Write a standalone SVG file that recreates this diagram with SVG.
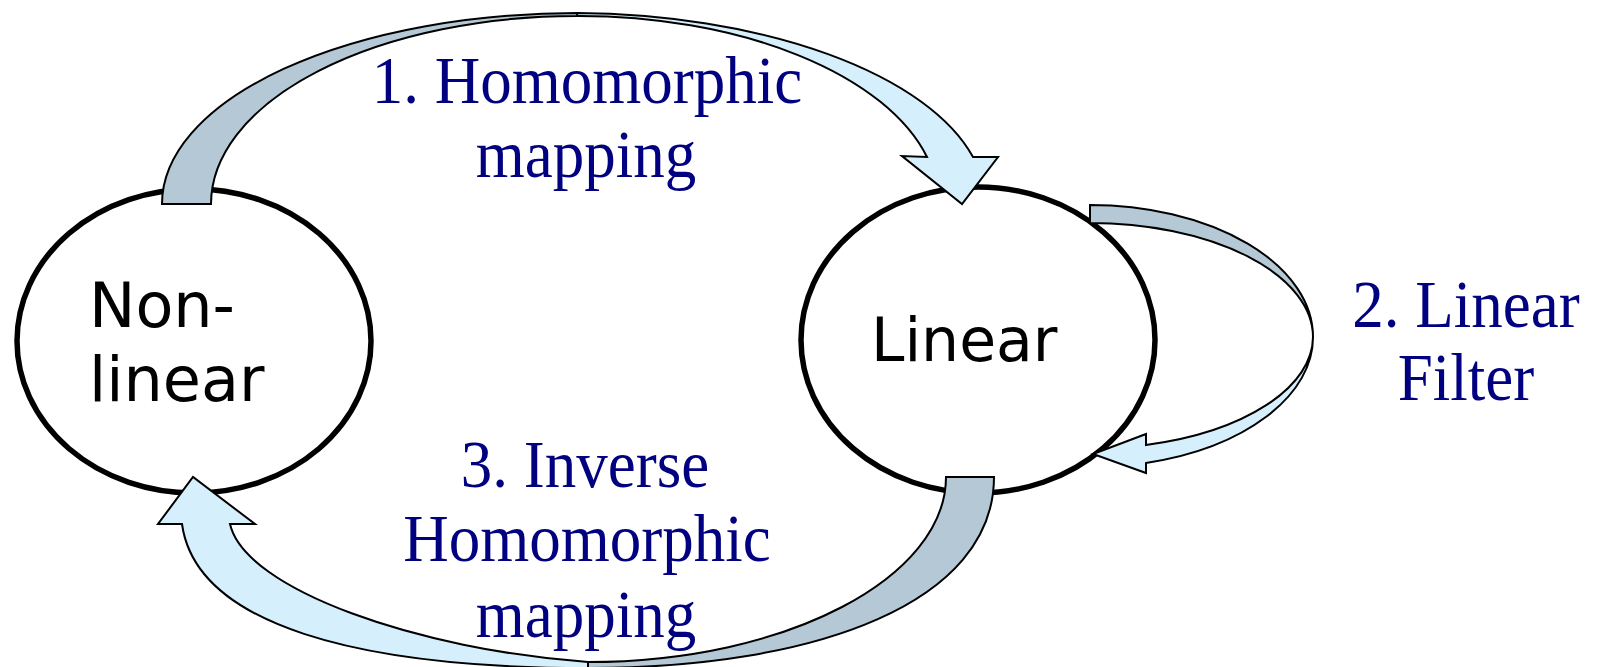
<svg xmlns="http://www.w3.org/2000/svg" width="1597" height="667" viewBox="0 0 1597 667">
<style>
.node{fill:#ffffff;stroke:#000000;stroke-width:5.5}
.lbl{font-family:"DejaVu Sans",Verdana,sans-serif;font-size:62px;fill:#000000}
.step{font-family:"Liberation Serif","Times New Roman",serif;font-size:63px;fill:#000080;text-anchor:middle}
.back{fill:#b4c9d5;stroke:#000000;stroke-width:2;stroke-linejoin:miter}
.front{fill:#d5effc;stroke:#000000;stroke-width:2;stroke-linejoin:miter}
</style>
<rect width="1597" height="667" fill="#ffffff"/>
<g id="nonlinear">
<ellipse class="node" cx="194" cy="341" rx="177" ry="152"/>
<text class="lbl" x="89" y="327">Non-</text>
<text class="lbl" x="89" y="401">linear</text>
</g>
<g id="linear">
<ellipse class="node" cx="978" cy="340" rx="177" ry="153"/>
<text class="lbl" x="871" y="361" style="font-size:60px">Linear</text>
</g>
<g id="connectors">
<g id="arrow-homomorphic">
<path class="back" d="M162,204 A415,191 0 0 1 577,13 L577,16 A366,188 0 0 0 211,204 Z"/>
<path class="front" d="M577,13 A415,191 0 0 1 973,157 L998,157 L962,204 L902,156 L927,157 A360,189 0 0 0 577,16 Z"/>
</g>
<g id="arrow-filter">
<path class="back" d="M1090,205 A223,132 0 0 1 1313,337 A223,114 0 0 0 1090,223 Z"/>
<path class="front" d="M1313,337 A224,130 0 0 1 1146,463 L1146,473 L1093,454 L1146,434 L1146,445 A224,112 0 0 0 1313,337 Z"/>
</g>
<g id="arrow-inverse">
<path class="back" d="M946,477 L994,477 C994,602 818,668 588,668 L588,662 C788,662 946,577 946,477 Z"/>
<path class="front" d="M588,668 C358,668 196,625 182,524 L158,524 L193,477 L255,524 L230,524 C245,590 420,650 588,662 Z"/>
</g>
</g>
<g id="labels">
<text class="step" transform="translate(587,103) scale(1,1.06)">1. Homomorphic</text>
<text class="step" transform="translate(586,177) scale(1,1.06)">mapping</text>
<text class="step" transform="translate(1466,327) scale(1,1.06)">2. Linear</text>
<text class="step" transform="translate(1466,400) scale(1,1.06)">Filter</text>
<text class="step" transform="translate(585,487) scale(1,1.06)">3. Inverse</text>
<text class="step" transform="translate(587,561) scale(1,1.06)">Homomorphic</text>
<text class="step" transform="translate(586,637) scale(1,1.06)">mapping</text>
</g>
</svg>
